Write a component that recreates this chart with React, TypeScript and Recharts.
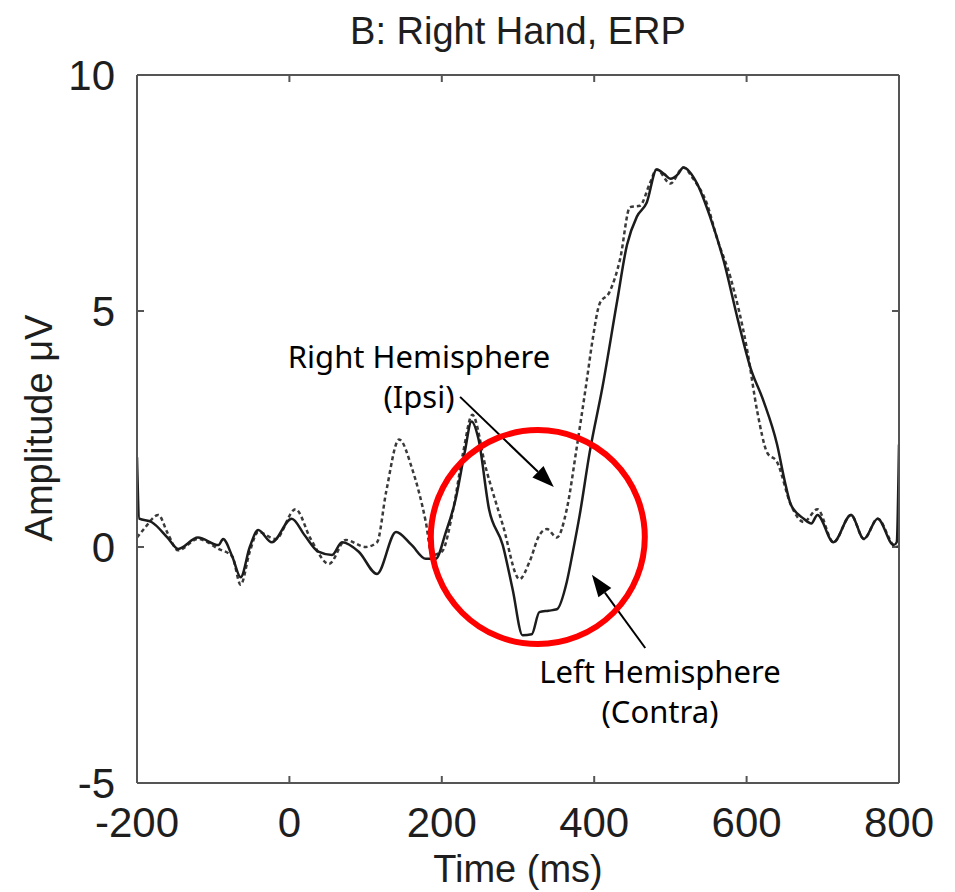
import { LineChart, Line, XAxis, YAxis, ReferenceDot, ReferenceLine } from "recharts";

// ERP waveforms, time in ms, amplitude in µV
const contraTimes = [
  -200, -197, -181, -160, -146, -120, -93, -87, -75, -64, -52, -41, -23, 3, 20, 38, 56, 69, 91, 115,
  140, 160, 179, 192, 205, 218, 230, 239, 248, 262, 280, 293, 306, 318, 328, 340, 351, 364, 372, 381,
  394, 411, 430, 443, 456, 469, 482, 492, 500, 510, 517, 535, 552, 570, 588, 605, 622, 640, 650, 658,
  675, 685, 693, 714, 737, 754, 772, 793, 797, 800,
];
const contraValues = [
  1.9, 0.6, 0.53, 0.2, -0.04, 0.2, 0.04, 0.17, -0.2, -0.64, 0, 0.36, 0.1, 0.6, 0.25, -0.1, -0.17, 0.1, -0.1, -0.57,
  0.32, 0.05, -0.25, -0.25, 0.3, 1.0, 2.0, 2.66, 2.3, 0.8, 0.04, -0.9, -1.87, -1.85, -1.38, -1.35, -1.32, -0.74, -0.1, 0.68,
  2.0, 3.4, 5.2, 6.4, 7.0, 7.3, 8.0, 7.9, 7.8, 7.9, 8.04, 7.7, 7.0, 6.06, 4.85, 3.8, 3.1, 2.17, 1.4, 0.9,
  0.6, 0.5, 0.68, 0.1, 0.68, 0.17, 0.6, 0.04, 0.1, 2.17,
];

const ipsiTimes = [
  -200, -190, -172, -160, -146, -120, -93, -75, -64, -52, -41, -18, 8, 28, 52, 74, 100, 115, 127, 144,
  161, 179, 187, 200, 215, 228, 240, 258, 280, 302, 315, 328, 338, 351, 364, 377, 390, 398, 407, 420,
  434, 447, 460, 473, 482, 500, 517, 530, 548, 561, 579, 601, 614, 627, 640, 658, 675, 693, 714, 737,
  754, 772, 793, 800,
];
const ipsiValues = [
  0.2, 0.4, 0.68, 0.3, -0.07, 0.17, -0.04, -0.2, -0.8, -0.1, 0.32, 0.17, 0.8, 0.17, -0.36, 0.15, 0, 0.1, 1.17, 2.28,
  1.66, 0.53, -0.17, -0.1, 0.8, 2.0, 2.8, 1.66, 0.47, -0.68, -0.32, 0.25, 0.38, 0.2, 0.8, 2.1, 3.5, 4.4, 5.15, 5.4,
  6.1, 7.2, 7.23, 7.7, 8.0, 7.7, 8.04, 7.8, 7.27, 6.55, 5.7, 4.15, 2.87, 2.0, 1.8, 0.9, 0.53, 0.8, 0.1, 0.68,
  0.17, 0.6, 0.04, 0.0,
];

const timeTicks = [-200, 0, 200, 400, 600, 800];
const ampTicks = [-5, 0, 5, 10];

const contra = contraTimes.map((t, i) => ({ t, v: contraValues[i] }));
const ipsi = ipsiTimes.map((t, i) => ({ t, v: ipsiValues[i] }));

const axisColor = "#555";
const tickFont = { fontSize: 42, fill: "#1e1e1e", fontFamily: "'Liberation Sans', Arial, sans-serif" };
const noteFont = "'Noto Sans', sans-serif";

const Arrow = (props: any) => {
  const { x1, y1, x2, y2 } = props;
  const a = Math.atan2(y2 - y1, x2 - x1);
  const len = 22;
  const half = 8;
  const bx = x2 - len * Math.cos(a);
  const by = y2 - len * Math.sin(a);
  const px = -Math.sin(a) * half;
  const py = Math.cos(a) * half;
  return (
    <g>
      <line x1={x1} y1={y1} x2={bx} y2={by} stroke="#000" strokeWidth={2} />
      <polygon points={`${x2},${y2} ${bx + px},${by + py} ${bx - px},${by - py}`} fill="#000" />
    </g>
  );
};

// inward tick stubs at both ends of a grid position (matlab-style box ticks)
const TickStubs = (props: any) => {
  const { x1, y1, x2, y2 } = props;
  const d = Math.hypot(x2 - x1, y2 - y1) || 1;
  const ux = ((x2 - x1) / d) * 7;
  const uy = ((y2 - y1) / d) * 7;
  return (
    <g stroke={axisColor} strokeWidth={2}>
      <line x1={x1} y1={y1} x2={x1 + ux} y2={y1 + uy} />
      <line x1={x2} y1={y2} x2={x2 - ux} y2={y2 - uy} />
    </g>
  );
};

const App = () => (
  <div style={{ position: "relative", width: 955, height: 892, background: "#fff" }}>
    <style>{`body{margin:0}`}</style>
    <LineChart width={955} height={892} margin={{ top: 74, right: 55, bottom: 47, left: 37 }}>
      <XAxis
        dataKey="t"
        type="number"
        domain={[-200, 800]}
        ticks={timeTicks}
        allowDataOverflow
        height={62}
        tickLine={false}
        tickMargin={18}
        tick={tickFont}
        stroke={axisColor}
        strokeWidth={2}
      />
      <XAxis
        xAxisId="top"
        orientation="top"
        type="number"
        domain={[-200, 800]}
        height={1}
        tickLine={false}
        tick={false}
        stroke={axisColor}
        strokeWidth={2}
      />
      <YAxis
        type="number"
        domain={[-5, 10]}
        ticks={ampTicks}
        allowDataOverflow
        width={100}
        tickLine={false}
        tickMargin={16}
        tick={tickFont}
        stroke={axisColor}
        strokeWidth={2}
      />
      <YAxis
        yAxisId="right"
        orientation="right"
        type="number"
        domain={[-5, 10]}
        width={1}
        tickLine={false}
        tick={false}
        stroke={axisColor}
        strokeWidth={2}
      />
      {timeTicks.slice(1, -1).map((t) => (
        <ReferenceLine key={`tx${t}`} x={t} shape={TickStubs} />
      ))}
      {ampTicks.slice(1, -1).map((v) => (
        <ReferenceLine key={`ty${v}`} y={v} shape={TickStubs} />
      ))}
      <Line
        data={ipsi}
        dataKey="v"
        type="monotone"
        stroke="#3a3a3a"
        strokeWidth={2.5}
        strokeDasharray="4 3"
        dot={false}
        isAnimationActive={false}
      />
      <Line
        data={contra}
        dataKey="v"
        type="monotone"
        stroke="#1c1c1c"
        strokeWidth={2.5}
        dot={false}
        isAnimationActive={false}
      />
      <ReferenceDot x={326} y={0.21} r={107} fill="none" stroke="#f00" strokeWidth={6} />
      <ReferenceLine segment={[{ x: 224, y: 3.18 }, { x: 347, y: 1.27 }]} shape={Arrow} />
      <ReferenceLine segment={[{ x: 467, y: -2.14 }, { x: 397, y: -0.59 }]} shape={Arrow} />
    </LineChart>
    <svg width={955} height={892} style={{ position: "absolute", left: 0, top: 0, pointerEvents: "none" }}>
      <g fontFamily="'Liberation Sans', Arial, sans-serif" fill="#1e1e1e" textAnchor="middle">
        <text x={518} y={44} fontSize={38}>B: Right Hand, ERP</text>
        <text x={518} y={882} fontSize={38}>Time (ms)</text>
        <text x={52} y={428} fontSize={38} transform="rotate(-90 52 428)">Amplitude μV</text>
      </g>
      <g fontFamily={noteFont} fill="#000" textAnchor="middle" fontSize={31}>
        <text x={419} y={368}>Right Hemisphere</text>
        <text x={419} y={408}>(Ipsi)</text>
        <text x={660} y={683}>Left Hemisphere</text>
        <text x={660} y={723}>(Contra)</text>
      </g>
    </svg>
  </div>
);

export default App;
